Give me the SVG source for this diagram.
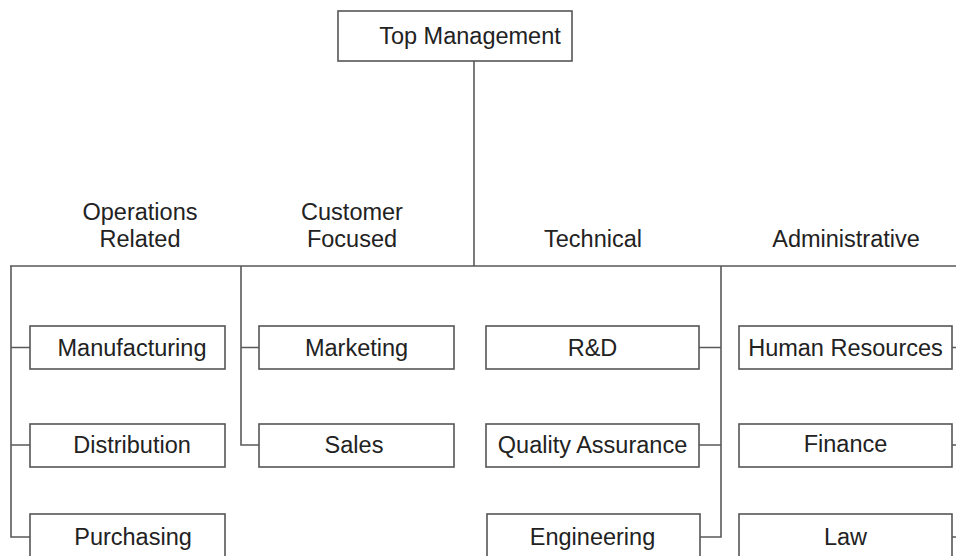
<svg xmlns="http://www.w3.org/2000/svg" width="956" height="556" viewBox="0 0 956 556">
<style>
.box{fill:#fff;stroke:#555;stroke-width:1.6}
.t{font-family:"Liberation Sans",Arial,sans-serif;font-size:23.5px;fill:#222;text-anchor:middle}
.c{fill:none;stroke:#5a5a5a;stroke-width:1.6}
</style>
<rect width="956" height="556" fill="#fff"/>
<g id="connectors">
<path class="c" d="M474 61V266M10 266H956"/>
<path class="c" d="M11 266V537H30M11 347.5H30M11 445H30"/>
<path class="c" d="M241 266V445H259M241 347.5H259"/>
<path class="c" d="M721 266V537H700M721 347.5H699M721 445H699"/>
<path class="c" d="M952 347.5H956M952 445H956M952 537H956"/>
</g>
<g id="headers">
<text class="t" x="140" y="220">Operations</text>
<text class="t" x="140" y="247">Related</text>
<text class="t" x="352" y="220">Customer</text>
<text class="t" x="352" y="247">Focused</text>
<text class="t" x="593" y="247">Technical</text>
<text class="t" x="846" y="247">Administrative</text>
</g>
<g id="top"><rect class="box" x="338" y="11" width="234" height="50"/><text class="t" x="470" y="44">Top Management</text></g>
<g id="manufacturing"><rect class="box" x="30" y="326" width="195" height="43"/><text class="t" x="132" y="356">Manufacturing</text></g>
<g id="distribution"><rect class="box" x="30" y="424" width="195" height="43"/><text class="t" x="132" y="453">Distribution</text></g>
<g id="purchasing"><rect class="box" x="30" y="514" width="195" height="45"/><text class="t" x="133" y="545">Purchasing</text></g>
<g id="marketing"><rect class="box" x="259" y="326" width="195" height="43"/><text class="t" x="356.5" y="356">Marketing</text></g>
<g id="sales"><rect class="box" x="259" y="424" width="195" height="43"/><text class="t" x="354" y="453">Sales</text></g>
<g id="rd"><rect class="box" x="486" y="326" width="213" height="43"/><text class="t" x="592.5" y="356">R&amp;D</text></g>
<g id="qa"><rect class="box" x="486" y="424" width="213" height="43"/><text class="t" x="592.5" y="453">Quality Assurance</text></g>
<g id="engineering"><rect class="box" x="487" y="514" width="213" height="45"/><text class="t" x="592.5" y="545">Engineering</text></g>
<g id="hr"><rect class="box" x="739" y="326" width="213" height="43"/><text class="t" x="845.5" y="356">Human Resources</text></g>
<g id="finance"><rect class="box" x="739" y="424" width="213" height="43"/><text class="t" x="845.5" y="452">Finance</text></g>
<g id="law"><rect class="box" x="739" y="514" width="213" height="45"/><text class="t" x="845.5" y="545">Law</text></g>
</svg>
